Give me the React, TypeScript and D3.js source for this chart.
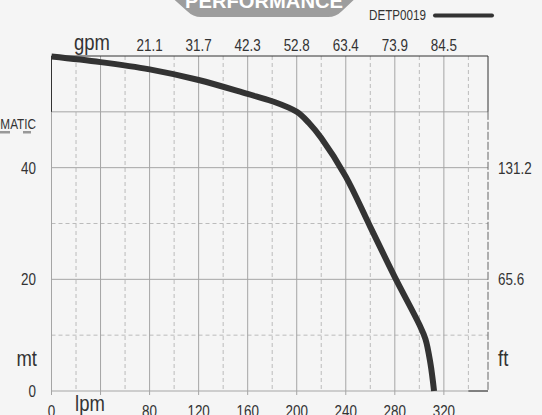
import { scaleLinear, line, curveCatmullRom } from "d3";

const W = 542;
const H = 415;

// pump curve: flow (lpm) vs head (mt)
const flowLpm = [0, 40, 80, 120, 160, 180, 200, 210, 220, 240, 260, 280, 300, 305, 309, 312];
const headMt = [59.9, 58.9, 57.6, 55.7, 53.2, 51.9, 50.0, 48.0, 45.3, 38.4, 29.4, 20.4, 11.9, 9.3, 5.0, 0];

const lpmTicks = [0, 80, 120, 160, 200, 240, 280, 320];
const gpmLabels = ["21.1", "31.7", "42.3", "52.8", "63.4", "73.9", "84.5"];
const gpmAtLpm = [80, 120, 160, 200, 240, 280, 320];
const mtTicks = [0, 20, 40];
const ftLabels = ["65.6", "131.2"];
const ftAtMt = [20, 40];

const solidX = [0, 40, 80, 120, 160, 200, 240, 280, 320];
const dashedX = [20, 60, 100, 140, 180, 220, 260, 300, 340];
const solidY = [20, 40, 50];
const dashedY = [10, 30];

const font = "'Liberation Sans', Roboto, sans-serif";
const ink = "#333";

// narrow text: squeeze horizontally
function T({
    x,
    y,
    size,
    anchor = "start",
    fill = ink,
    children,
}: {
    x: number;
    y: number;
    size: number;
    anchor?: "start" | "middle" | "end";
    fill?: string;
    children: React.ReactNode;
}) {
    return (
        <text
            transform={`translate(${x},${y}) scale(0.84,1)`}
            fontSize={size}
            fill={fill}
            textAnchor={anchor}
        >
            {children}
        </text>
    );
}

export default function App() {
    const x = scaleLinear().domain([0, 356]).range([51.5, 488]);
    const y = scaleLinear().domain([0, 60]).range([391, 56]);

    const pts = flowLpm.map((f, i) => [f, headMt[i]] as [number, number]);
    const path = line<[number, number]>()
        .x((d) => x(d[0]))
        .y((d) => y(d[1]))
        .curve(curveCatmullRom.alpha(0.5))(pts);

    return (
        <svg
            width={W}
            height={H}
            style={{ position: "absolute", left: 0, top: 0 }}
            fontFamily={font}
        >
            <rect width={W} height={H} fill="#f5f5f5" />

            {/* title badge */}
            <path
                d="M168,-6 L187,11 Q193,17 201,17 L328,17 Q336,17 342,11 L360,-6 Z"
                fill="#9d9d9d"
            />
            <text
                x={264}
                y={8}
                textAnchor="middle"
                fill="#fff"
                fontSize={21}
                fontWeight="bold"
                textLength={158}
                lengthAdjust="spacingAndGlyphs"
            >
                PERFORMANCE
            </text>

            {/* legend */}
            <text
                x={369}
                y={20}
                fontSize={14}
                fill={ink}
                textLength={57}
                lengthAdjust="spacingAndGlyphs"
            >
                DETP0019
            </text>
            <line
                x1={435}
                x2={492}
                y1={15.5}
                y2={15.5}
                stroke={ink}
                strokeWidth={4}
                strokeLinecap="round"
            />
            <T x={36} y={129} size={14} anchor="end">
                AUTOMATIC
            </T>
            <rect x={0} y={131} width={10} height={2.5} fill="#999" />
            <rect x={23} y={131} width={8} height={2.5} fill="#999" />

            {/* grid */}
            <g stroke="#bbb" strokeDasharray="4,3">
                {dashedX.map((v) => (
                    <line key={`dx${v}`} x1={x(v)} x2={x(v)} y1={y(60)} y2={y(0)} />
                ))}
                {dashedY.map((v) => (
                    <line key={`dy${v}`} x1={x(0)} x2={x(356)} y1={y(v)} y2={y(v)} />
                ))}
            </g>
            <g stroke="#a5a5a5">
                {solidX.map((v) => (
                    <line key={`sx${v}`} x1={x(v)} x2={x(v)} y1={y(60)} y2={y(0) + 4} />
                ))}
                {solidY.map((v) => (
                    <line key={`sy${v}`} x1={x(0)} x2={x(356)} y1={y(v)} y2={y(v)} />
                ))}
                <line x1={x(0)} x2={x(356)} y1={y(0)} y2={y(0)} />
            </g>
            {/* frame */}
            <g stroke={ink}>
                <line x1={x(0)} x2={x(356)} y1={y(60)} y2={y(60)} />
                <line x1={x(0)} x2={x(0)} y1={y(60)} y2={y(50)} />
                <line x1={x(356)} x2={x(356)} y1={y(60)} y2={y(50)} />
                <line
                    x1={x(356)}
                    x2={x(356)}
                    y1={y(50)}
                    y2={y(0)}
                    stroke="#666"
                    strokeDasharray="8,2"
                />
                <line x1={x(340)} x2={x(356)} y1={y(0)} y2={y(0)} />
            </g>

            {/* curve */}
            <path
                d={path ?? ""}
                fill="none"
                stroke={ink}
                strokeWidth={6}
                strokeLinejoin="round"
            />

            {/* top gpm labels */}
            <T x={92} y={50} size={22} anchor="middle">
                gpm
            </T>
            {gpmLabels.map((t, i) => (
                <T key={t} x={x(gpmAtLpm[i])} y={51} size={16} anchor="middle">
                    {t}
                </T>
            ))}

            {/* bottom lpm labels */}
            {lpmTicks.map((v) => (
                <T key={v} x={x(v)} y={417} size={16} anchor="middle">
                    {v}
                </T>
            ))}
            <T x={90} y={411} size={22} anchor="middle">
                lpm
            </T>

            {/* left mt labels */}
            {mtTicks.map((v) => (
                <T key={v} x={36} y={y(v) + 6} size={16} anchor="end">
                    {v}
                </T>
            ))}
            <T x={37} y={366} size={22} anchor="end">
                mt
            </T>

            {/* right ft labels */}
            {ftLabels.map((t, i) => (
                <T key={t} x={498} y={y(ftAtMt[i]) + 6} size={16}>
                    {t}
                </T>
            ))}
            <T x={498} y={366} size={22}>
                ft
            </T>
        </svg>
    );
}
